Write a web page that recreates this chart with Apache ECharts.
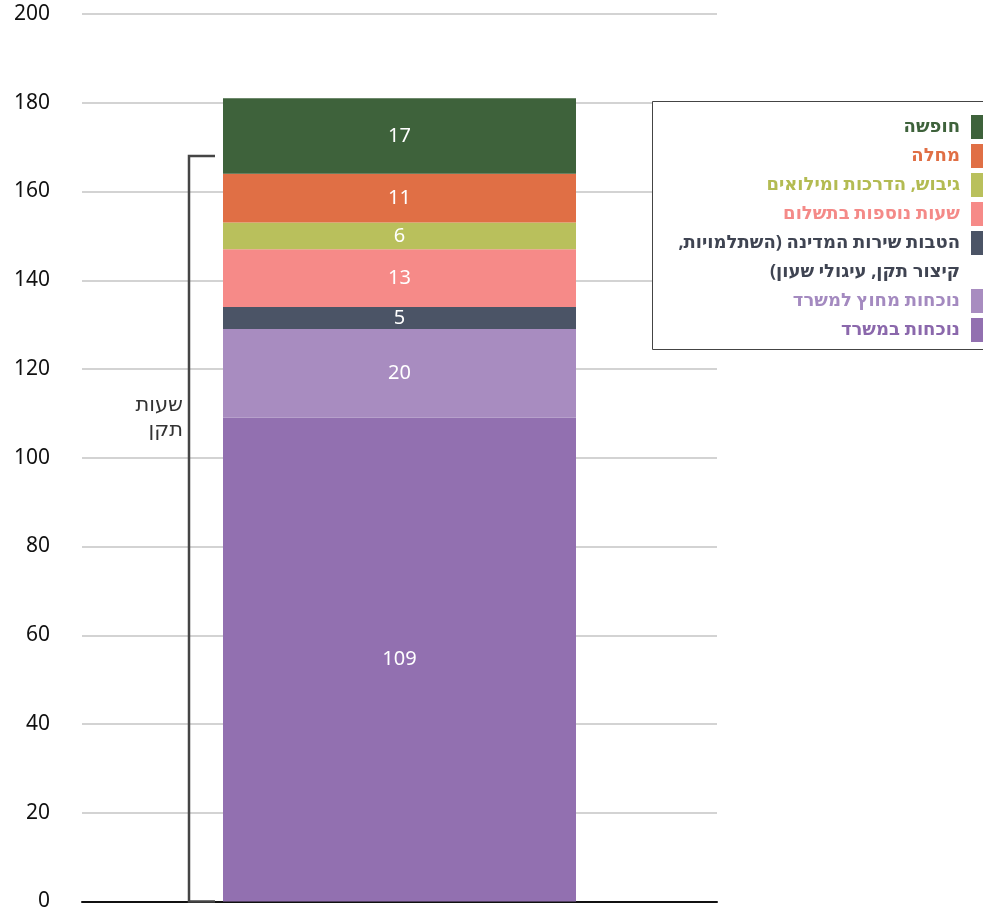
<!DOCTYPE html>
<html lang="he">
<head>
<meta charset="utf-8">
<title>הרכב שעות העבודה החודשיות</title>
<script src="https://cdn.jsdelivr.net/npm/echarts@6/dist/echarts.min.js"></script>
<style>
  html, body { margin: 0; padding: 0; background: #ffffff; }
  #chart { width: 983px; height: 912px; }
</style>
</head>
<body>
<div id="chart"></div>
<script>
// Stack segments, listed bottom to top
const seriesNames = [
  'נוכחות במשרד',
  'נוכחות מחוץ למשרד',
  'הטבות שירות המדינה (השתלמויות,\nקיצור תקן, עיגולי שעון)',
  'שעות נוספות בתשלום',
  'גיבוש, הדרכות ומילואים',
  'מחלה',
  'חופשה'
];
const seriesValues = [109, 20, 5, 13, 6, 11, 17];
const seriesColors = ['#9270b0', '#a88cc0', '#4b5466', '#f68a88', '#b9c05c', '#e06f45', '#3e623b'];
const legendTextColors = ['#8b68ac', '#a48ac0', '#3f4452', '#f48a88', '#b3bb52', '#e06f45', '#3e623b'];
const categories = [''];
const yTicks = { min: 0, max: 200, interval: 20 };
// Standard monthly hours marked by the bracket
const standardHours = 168;
const standardLabel = 'שעות\nתקן';

const FONT = '"Noto Sans", "DejaVu Sans", sans-serif';
// Right-to-left marks keep punctuation on the correct side in canvas text
const RLM = '\u200F';
const rtl = s => RLM + s + RLM;

const chart = echarts.init(document.getElementById('chart'), null, { renderer: 'canvas' });

const barSeries = seriesNames.map((name, i) => ({
  name: name,
  type: 'bar',
  stack: 'total',
  barWidth: 353,
  data: [seriesValues[i]],
  itemStyle: { color: seriesColors[i] },
  label: {
    show: true,
    position: 'inside',
    color: '#ffffff',
    fontSize: 20,
    fontFamily: FONT,
    formatter: p => String(p.value)
  },
  emphasis: { disabled: true }
}));

// Bracket spanning from zero up to the standard hours
const bracketSeries = {
  type: 'custom',
  name: 'bracket',
  data: [[0, standardHours]],
  z: 5,
  renderItem: function (params, api) {
    const top = api.coord([api.value(0), api.value(1)]);
    const bottom = api.coord([api.value(0), 0]);
    const x = top[0] - 353 / 2 - 34;
    const tick = 26;
    return {
      type: 'group',
      children: [
        {
          type: 'polyline',
          shape: { points: [[x + tick, top[1]], [x, top[1]], [x, bottom[1]], [x + tick, bottom[1]]] },
          style: { stroke: '#454545', lineWidth: 2.5, fill: null }
        },
        {
          type: 'text',
          style: {
            x: x - 6,
            y: api.coord([0, 109])[1],
            text: standardLabel,
            fill: '#333333',
            font: '21px ' + FONT,
            align: 'right',
            verticalAlign: 'middle',
            lineHeight: 25
          }
        }
      ]
    };
  }
};

// Legend box drawn as graphics, right aligned for Hebrew
const legendGraphics = [];
legendGraphics.push({
  type: 'rect',
  shape: { x: 652.5, y: 101.5, width: 340, height: 248 },
  style: { fill: '#ffffff', stroke: '#444444', lineWidth: 1 },
  z: 10
});
const legendOrder = [6, 5, 4, 3, 2, 1, 0];
let rowY = 127;
legendOrder.forEach(idx => {
  const lines = seriesNames[idx].split('\n');
  legendGraphics.push({
    type: 'rect',
    shape: { x: 971, y: rowY - 12, width: 14, height: 24 },
    style: { fill: seriesColors[idx] },
    z: 11
  });
  lines.forEach((ln, k) => {
    legendGraphics.push({
      type: 'text',
      style: {
        x: 960,
        y: rowY + k * 29,
        text: rtl(ln),
        fill: legendTextColors[idx],
        font: 'bold 18px ' + FONT,
        align: 'right',
        verticalAlign: 'middle'
      },
      z: 11
    });
  });
  rowY += 29 * lines.length;
});

chart.setOption({
  animation: false,
  backgroundColor: '#ffffff',
  grid: { left: 82, right: 266, top: 14, bottom: 10, containLabel: false },
  xAxis: {
    type: 'category',
    data: categories,
    axisLine: { show: true, lineStyle: { color: '#111111', width: 2 } },
    axisTick: { show: false },
    axisLabel: { show: false }
  },
  yAxis: {
    type: 'value',
    min: yTicks.min,
    max: yTicks.max,
    interval: yTicks.interval,
    axisLine: { show: false },
    axisTick: { show: false },
    axisLabel: {
      color: '#111111', fontSize: 21, fontFamily: FONT, margin: 32, align: 'right',
      padding: [4, 0, 0, 0]
    },
    splitLine: { lineStyle: { color: '#d3d3d3', width: 2 } }
  },
  series: barSeries.concat([bracketSeries]),
  graphic: legendGraphics
});
</script>
</body>
</html>
